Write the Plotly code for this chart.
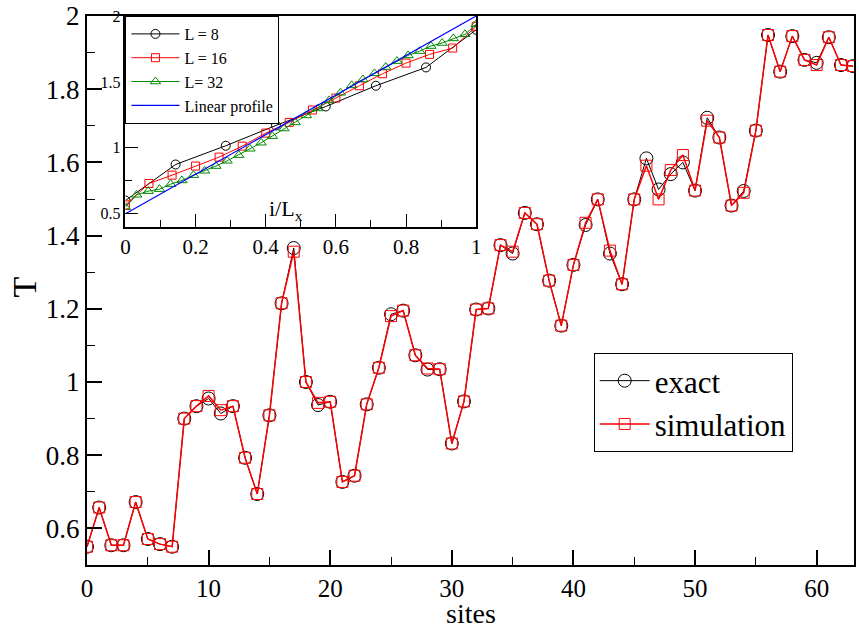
import plotly.graph_objects as go

# ---------------- main data ----------------
sites = list(range(64))
exact = [
    0.550, 0.657, 0.554, 0.554, 0.672, 0.571, 0.557, 0.550, 0.900, 0.934,
    0.955, 0.914, 0.934, 0.793, 0.694, 0.909, 1.215, 1.366, 1.000, 0.937,
    0.946, 0.727, 0.744, 0.939, 1.039, 1.185, 1.195, 1.073, 1.034, 1.035,
    0.832, 0.947, 1.198, 1.201, 1.374, 1.351, 1.462, 1.431, 1.277, 1.154,
    1.320, 1.429, 1.499, 1.351, 1.267, 1.499, 1.611, 1.526, 1.568, 1.600,
    1.523, 1.722, 1.668, 1.482, 1.522, 1.687, 1.948, 1.848, 1.945, 1.880,
    1.872, 1.942, 1.866, 1.863,
]
simulation = [
    0.550, 0.657, 0.554, 0.554, 0.672, 0.571, 0.557, 0.550, 0.900, 0.934,
    0.962, 0.923, 0.934, 0.793, 0.694, 0.909, 1.215, 1.356, 1.000, 0.943,
    0.946, 0.727, 0.744, 0.939, 1.039, 1.180, 1.195, 1.073, 1.037, 1.035,
    0.832, 0.947, 1.198, 1.201, 1.374, 1.356, 1.462, 1.431, 1.277, 1.154,
    1.320, 1.435, 1.499, 1.359, 1.267, 1.499, 1.591, 1.499, 1.579, 1.620,
    1.523, 1.714, 1.668, 1.482, 1.517, 1.687, 1.948, 1.848, 1.945, 1.880,
    1.866, 1.942, 1.866, 1.863,
]

# ---------------- inset data ----------------
x_L8 = [0.0, 0.143, 0.286, 0.429, 0.571, 0.714, 0.857, 1.0]
y_L8 = [0.601, 0.874, 1.016, 1.170, 1.314, 1.471, 1.610, 1.896]

x_L16 = [0.0, 0.067, 0.133, 0.2, 0.267, 0.333, 0.4, 0.467,
         0.533, 0.6, 0.667, 0.733, 0.8, 0.867, 0.933, 1.0]
y_L16 = [0.568, 0.730, 0.793, 0.862, 0.930, 1.013, 1.112, 1.193,
         1.287, 1.378, 1.471, 1.562, 1.643, 1.709, 1.757, 1.922]

x_L32 = [0.0, 0.032, 0.065, 0.097, 0.129, 0.161, 0.194, 0.226,
         0.258, 0.290, 0.323, 0.355, 0.387, 0.419, 0.452, 0.484,
         0.516, 0.548, 0.581, 0.613, 0.645, 0.677, 0.710, 0.742,
         0.774, 0.806, 0.839, 0.871, 0.903, 0.935, 0.968, 1.0]
y_L32 = [0.550, 0.644, 0.672, 0.687, 0.725, 0.753, 0.793, 0.826,
         0.862, 0.902, 0.945, 0.993, 1.039, 1.089, 1.147, 1.193,
         1.246, 1.299, 1.360, 1.418, 1.474, 1.519, 1.565, 1.613,
         1.658, 1.701, 1.734, 1.772, 1.795, 1.830, 1.861, 1.937]

x_lin = [0.0, 1.0]
y_lin = [0.5, 2.0]

FONT = "Liberation Serif, Times New Roman, Times, DejaVu Serif, serif"
RED = "rgb(255,0,0)"
GREEN = "rgb(0,139,0)"
BLUE = "rgb(0,0,255)"

fig = go.Figure()

fig.add_trace(go.Scatter(
    x=sites, y=exact, mode="lines+markers", name="exact",
    line=dict(color="black", width=1),
    marker=dict(symbol="circle-open", size=13, color="black", line=dict(width=1)),
    legend="legend"))
fig.add_trace(go.Scatter(
    x=sites, y=simulation, mode="lines+markers", name="simulation",
    line=dict(color=RED, width=1.5),
    marker=dict(symbol="square-open", size=11, color=RED, line=dict(width=1)),
    legend="legend"))

fig.add_trace(go.Scatter(
    x=x_L8, y=y_L8, mode="lines+markers", name="L = 8",
    xaxis="x2", yaxis="y2", legend="legend2",
    line=dict(color="black", width=1),
    marker=dict(symbol="circle-open", size=9, color="black", line=dict(width=1))))
fig.add_trace(go.Scatter(
    x=x_L16, y=y_L16, mode="lines+markers", name="L = 16",
    xaxis="x2", yaxis="y2", legend="legend2",
    line=dict(color=RED, width=1),
    marker=dict(symbol="square-open", size=8, color=RED, line=dict(width=1))))
fig.add_trace(go.Scatter(
    x=x_L32, y=y_L32, mode="lines+markers", name="L= 32",
    xaxis="x2", yaxis="y2", legend="legend2",
    line=dict(color=GREEN, width=1),
    marker=dict(symbol="triangle-up-open", size=9, color=GREEN, line=dict(width=1))))
fig.add_trace(go.Scatter(
    x=x_lin, y=y_lin, mode="lines", name="Linear profile",
    xaxis="x2", yaxis="y2", legend="legend2",
    line=dict(color=BLUE, width=1.2)))

W, H = 859, 628
ml, mr, mt, mb = 87, 0, 16, 63
pw = W - ml - mr
ph = H - mt - mb


def px_x(p):
    return (p - ml) / pw


def px_y(p):
    return (H - mb - p) / ph


axis_common = dict(showline=True, linecolor="black", showgrid=False,
                   zeroline=False, ticks="inside", tickcolor="black")

fig.update_layout(
    width=W, height=H,
    margin=dict(l=ml, r=mr, t=mt, b=mb),
    paper_bgcolor="white", plot_bgcolor="white",
    font=dict(family=FONT, color="black"),
    xaxis=dict(**axis_common, domain=[0, 1], range=[0, 63.07], linewidth=2,
               mirror=True, ticklen=15, tickwidth=1.5, tick0=0, dtick=10,
               minor=dict(ticks="inside", ticklen=8, dtick=5, tickcolor="black", tickwidth=1),
               tickfont=dict(size=25, family=FONT)),
    yaxis=dict(**axis_common, domain=[0, 1], range=[0.5, 2.0], linewidth=2,
               mirror=True, ticklen=15, tickwidth=1.5, tick0=0, dtick=0.2,
               minor=dict(ticks="inside", ticklen=8, dtick=0.1, tickcolor="black", tickwidth=1),
               tickfont=dict(size=27, family=FONT)),
    xaxis2=dict(**axis_common, domain=[px_x(125.7), px_x(478.7)], anchor="y2",
                range=[0, 1], linewidth=1.5, mirror=True, ticklen=13, tickwidth=1.2,
                tick0=0, dtick=0.2,
                minor=dict(ticks="inside", ticklen=7, dtick=0.1, tickcolor="black", tickwidth=1),
                tickfont=dict(size=21, family=FONT)),
    yaxis2=dict(**axis_common, domain=[px_y(227), px_y(16)], anchor="x2",
                range=[0.4, 2.0], linewidth=1.5, mirror=True, ticklen=13, tickwidth=1.2,
                tickvals=[0.5, 1, 1.5, 2], ticktext=["0.5", "1", "1.5", "2"],
                minor=dict(ticks="inside", ticklen=7, tickvals=[0.75, 1.25, 1.75],
                           tickcolor="black", tickwidth=1),
                tickfont=dict(size=16, family=FONT)),
    legend=dict(x=px_x(597), y=px_y(353), xanchor="left", yanchor="top",
                bgcolor="white", bordercolor="black", borderwidth=1,
                font=dict(size=31, family=FONT), tracegroupgap=0,
                itemwidth=50),
    legend2=dict(x=px_x(125.7), y=px_y(16), xanchor="left", yanchor="top",
                 bgcolor="white", bordercolor="black", borderwidth=1,
                 font=dict(size=16, family=FONT), tracegroupgap=0,
                 itemwidth=48),
    showlegend=True,
    annotations=[
        dict(text="sites", x=0.5, y=px_y(613), xref="paper", yref="paper",
             showarrow=False, font=dict(size=28, family=FONT),
             xanchor="center", yanchor="middle"),
        dict(text="T", x=px_x(24), y=px_y(287), xref="paper", yref="paper",
             showarrow=False, font=dict(size=34, family=FONT), textangle=-90,
             xanchor="center", yanchor="middle"),
        dict(text="i/L<sub>x</sub>", x=0.457, y=0.53, xref="x2", yref="y2",
             showarrow=False, font=dict(size=22, family=FONT),
             xanchor="center", yanchor="middle"),
    ],
)

fig.write_html("out.html")
